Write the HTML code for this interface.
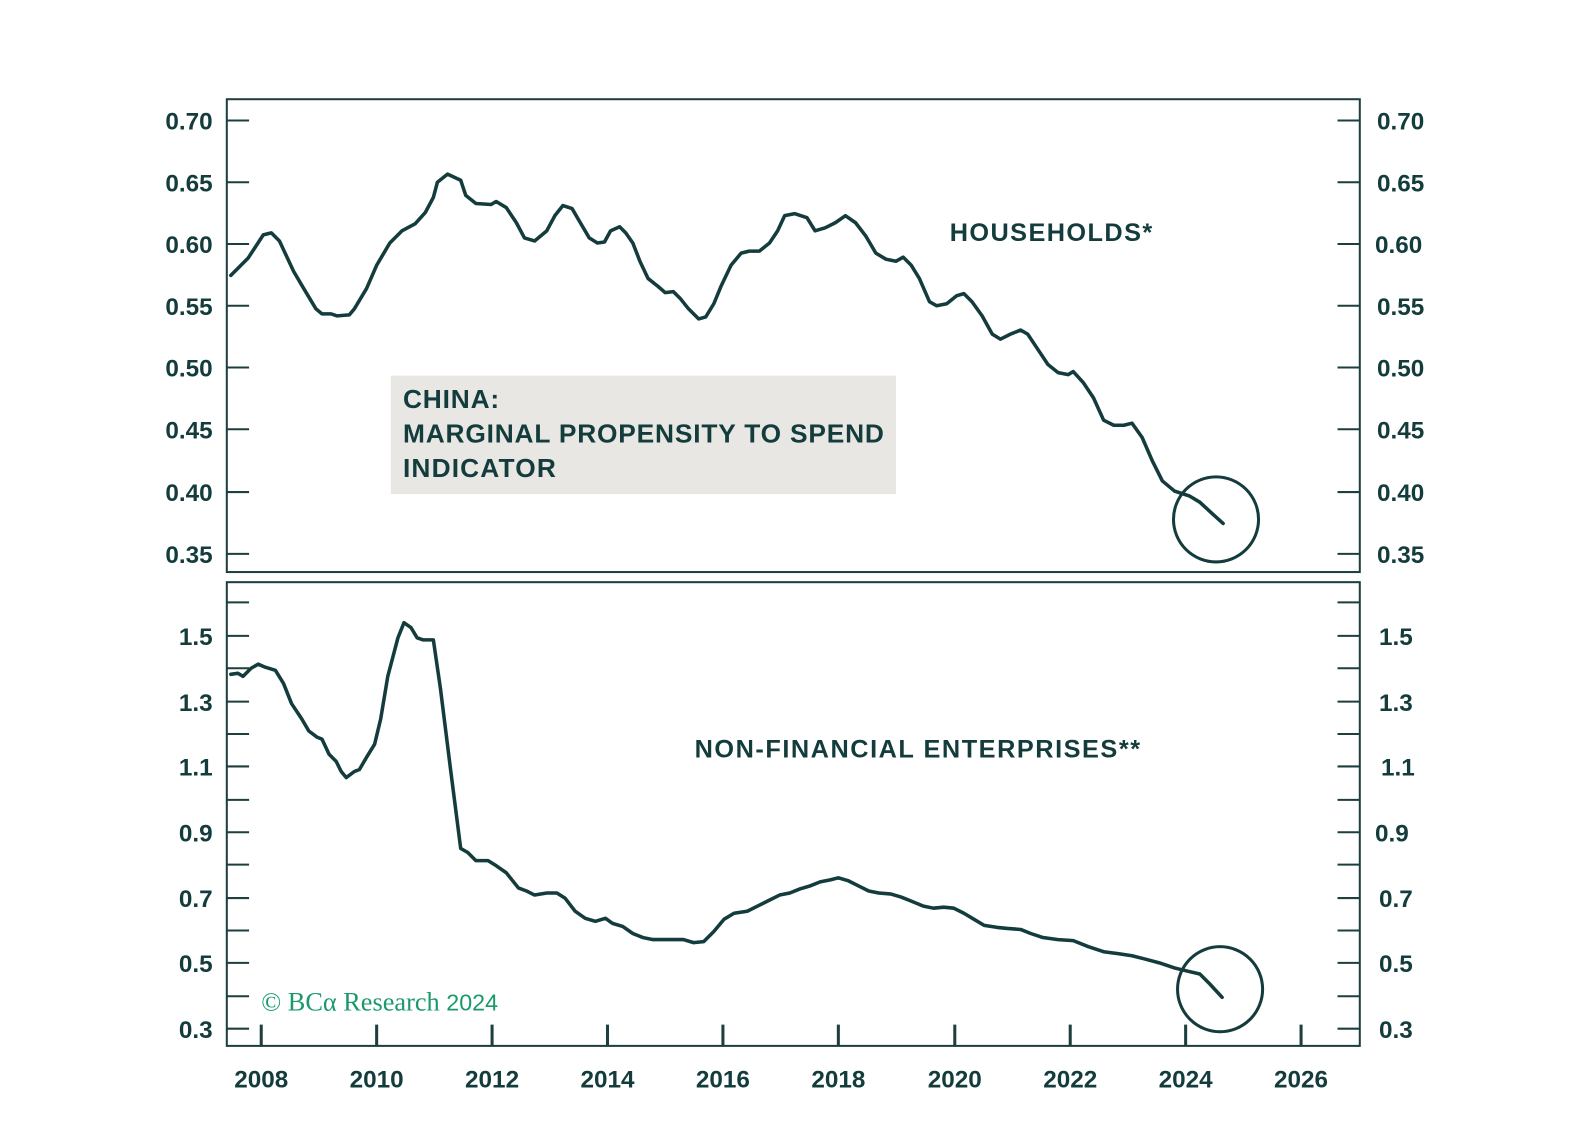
<!DOCTYPE html>
<html><head><meta charset="utf-8"><style>
html,body{margin:0;padding:0;background:#fff;}
svg{display:block;}
text{font-family:"Liberation Sans",sans-serif;font-weight:bold;fill:#143c3c;}
</style></head><body>
<svg width="1587" height="1144" viewBox="0 0 1567.4 1129.9" preserveAspectRatio="none" xmlns="http://www.w3.org/2000/svg">
<g stroke="#1d3f3f" stroke-width="2" fill="none">
<rect x="224" y="98" width="1119" height="467"/>
<rect x="224" y="575" width="1119" height="458"/>
<!-- top ticks -->
<path d="M224 119h22M224 180h22M224 241h22M224 302h22M224 363h22M224 424h22M224 486h22M224 547h22
M1343 119h-22M1343 180h-22M1343 241h-22M1343 302h-22M1343 363h-22M1343 424h-22M1343 486h-22M1343 547h-22"/>
<!-- bottom ticks -->
<path d="M224 595h22M224 628h22M224 660h22M224 693h22M224 725h22M224 757h22M224 790h22M224 822h22M224 854h22M224 887h22M224 919h22M224 951h22M224 984h22M224 1016h22
M1343 595h-22M1343 628h-22M1343 660h-22M1343 693h-22M1343 725h-22M1343 757h-22M1343 790h-22M1343 822h-22M1343 854h-22M1343 887h-22M1343 919h-22M1343 951h-22M1343 984h-22M1343 1016h-22"/>
<path stroke-width="3" d="M258 1033v-21M372 1033v-21M486 1033v-21M600 1033v-21M714 1033v-21M828 1033v-21M943 1033v-21M1057 1033v-21M1171 1033v-21M1285 1033v-21"/>
</g>
<rect x="386" y="371" width="499" height="117" fill="#e8e7e4"/>
<g stroke="#143c3c" stroke-width="3.5" fill="none" stroke-linejoin="round" stroke-linecap="round">
<polyline points="228,272 245,255 260,232 268,230 276,238 290,268 300,285 312,305 318,310 327,310 333,312 345,311 350,305 362,285 372,262 385,240 397,228 410,221 420,210 428,195 432,180 442,172 455,178 460,193 470,201 485,202 490,199 500,205 510,220 518,235 528,238 540,228 548,213 556,203 565,206 572,218 582,235 590,240 597,239 603,228 612,224 618,230 625,240 632,258 640,275 650,283 657,289 665,288 672,295 680,305 690,315 697,313 705,300 712,283 722,262 732,250 740,248 750,248 760,240 768,228 775,213 785,211 797,215 805,228 815,225 825,220 835,213 845,220 855,233 865,250 875,256 885,258 892,254 900,262 908,275 918,298 925,302 935,300 945,292 952,290 960,298 970,312 980,330 988,335 998,330 1008,326 1015,330 1025,345 1035,360 1045,368 1055,370 1060,367 1070,378 1080,393 1090,415 1100,420 1110,420 1118,418 1128,432 1138,455 1148,475 1160,485 1175,490 1185,496 1198,508 1208,517"/>
<polyline points="228,666 235,665 240,668 248,660 255,656 262,659 272,662 280,675 288,695 298,710 305,722 313,728 318,730 325,745 332,752 337,762 342,768 350,762 355,760 362,748 370,735 376,710 383,668 393,630 399,615 406,620 412,630 418,632 428,632 435,680 445,760 455,838 462,842 470,850 482,850 490,855 500,862 512,877 520,880 528,884 540,882 550,882 558,887 568,900 578,907 588,910 598,907 605,912 615,915 625,922 635,926 645,928 655,928 665,928 675,928 685,931 695,930 705,920 715,908 725,902 738,900 748,895 758,890 770,884 780,882 790,878 800,875 810,871 820,869 828,867 838,870 848,875 858,880 868,882 880,883 890,886 900,890 912,895 922,897 932,896 942,897 952,902 962,908 972,914 985,916 995,917 1008,918 1018,922 1030,926 1045,928 1060,929 1075,935 1090,940 1105,942 1118,944 1130,947 1145,951 1160,956 1172,959 1185,962 1195,972 1207,985"/>
<circle cx="1201" cy="513" r="42" stroke-width="3"/>
<circle cx="1205" cy="977" r="42" stroke-width="3"/>
</g>
<g font-size="24" text-anchor="end">
<text x="210" y="128">0.70</text><text x="210" y="189">0.65</text><text x="210" y="250">0.60</text><text x="210" y="311">0.55</text><text x="210" y="372">0.50</text><text x="210" y="433">0.45</text><text x="210" y="495">0.40</text><text x="210" y="556">0.35</text>
<text x="210" y="637">1.5</text><text x="210" y="702">1.3</text><text x="210" y="766">1.1</text><text x="210" y="831">0.9</text><text x="210" y="896">0.7</text><text x="210" y="960">0.5</text><text x="210" y="1025">0.3</text>
</g>
<g font-size="24">
<text x="1360" y="128">0.70</text><text x="1360" y="189">0.65</text><text x="1358" y="250">0.60</text><text x="1360" y="311">0.55</text><text x="1360" y="372">0.50</text><text x="1360" y="433">0.45</text><text x="1360" y="495">0.40</text><text x="1360" y="556">0.35</text>
<text x="1362" y="637">1.5</text><text x="1362" y="702">1.3</text><text x="1364" y="766">1.1</text><text x="1358" y="831">0.9</text><text x="1362" y="896">0.7</text><text x="1362" y="960">0.5</text><text x="1362" y="1025">0.3</text>
</g>
<g font-size="24" text-anchor="middle">
<text x="258" y="1074">2008</text><text x="372" y="1074">2010</text><text x="486" y="1074">2012</text><text x="600" y="1074">2014</text><text x="714" y="1074">2016</text><text x="828" y="1074">2018</text><text x="943" y="1074">2020</text><text x="1057" y="1074">2022</text><text x="1171" y="1074">2024</text><text x="1285" y="1074">2026</text>
</g>
<text x="938" y="238" font-size="25" textLength="200">HOUSEHOLDS*</text>
<text x="686" y="748" font-size="25" textLength="440">NON-FINANCIAL ENTERPRISES**</text>
<text x="398" y="403" font-size="26" textLength="95">CHINA:</text>
<text x="398" y="437" font-size="26" textLength="475">MARGINAL PROPENSITY TO SPEND</text>
<text x="398" y="471" font-size="26" textLength="151">INDICATOR</text>
<text x="258" y="998" font-size="26" style="font-family:'Liberation Serif',serif;font-weight:normal;fill:#1a9a6a">© BCα Research <tspan font-family="Liberation Sans" font-size="23">2024</tspan></text>
</svg>
</body></html>
